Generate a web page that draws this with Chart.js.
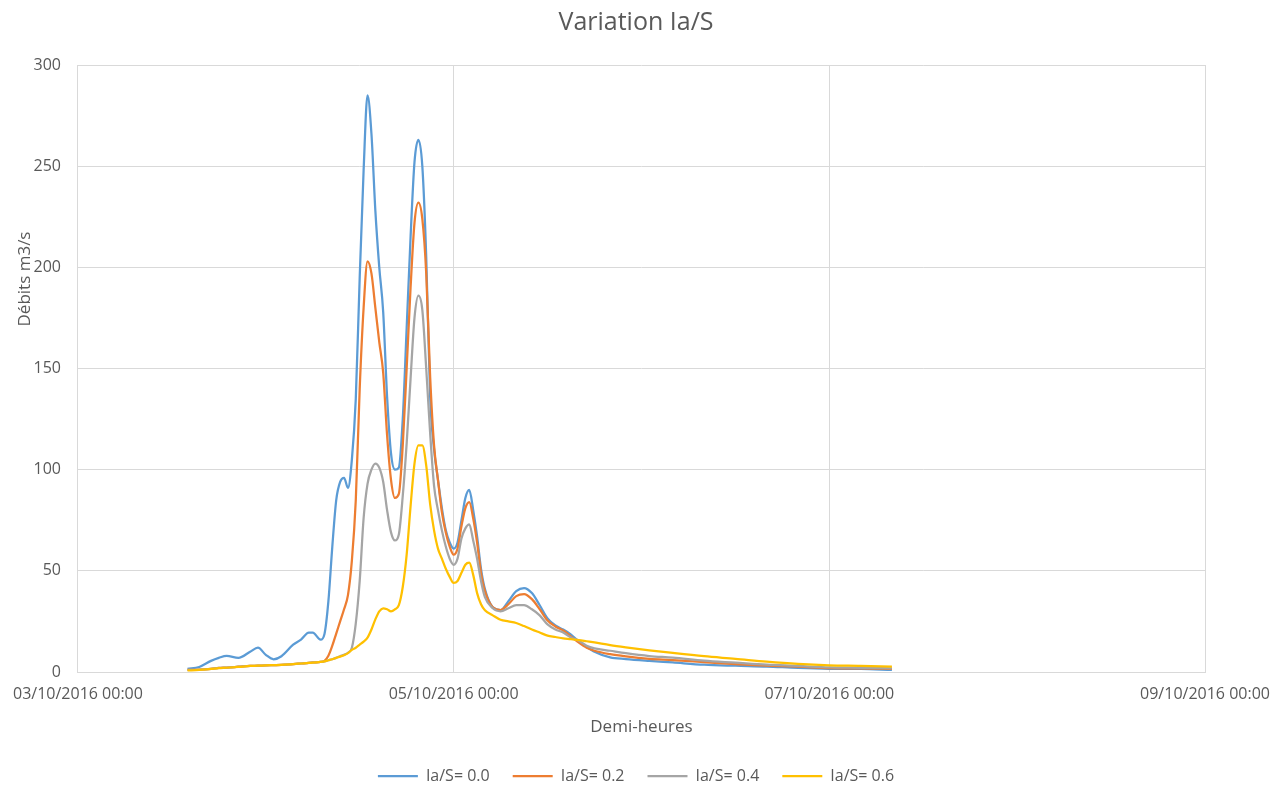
<!DOCTYPE html>
<html>
<head>
<meta charset="utf-8">
<script src="https://cdn.jsdelivr.net/npm/chart.js@4.4.1/dist/chart.umd.min.js"></script>
<style>
  body { margin: 0; background: #fff; }
</style>
</head>
<body>
<canvas id="variationIaS" width="1288" height="787"></canvas>
<script>
// heures depuis le 03/10/2016 00:00
const hours = [14,15.5,17,18,19,20.5,22,23,24,25,
  26,27.5,28.5,29.5,30,31,31.5,32,32.5,33,
  33.5,34,34.5,35,35.5,36,36.5,37,37.5,38,
  38.5,39,39.5,40,40.5,41,41.5,42,42.5,43,
  43.5,44,44.5,45,45.5,46,46.5,47,47.5,48,
  48.5,49,49.5,50,50.5,51,51.5,52,53,54,
  55,56,57,58,59,60,61,62,63,64,
  65,66,68,70,73,76,80,84,88,92,
  96,100,104];

const q_00 = [1.5,2.5,5.5,7,8,7,10,12,8.5,6.3,
  7.8,13.5,16,19.4,19.4,16,18.8,35,62,85,
  94,96,91,105,135,195,248,285,266,228,
  200,178,136,108,100,101,125,170,215,252,
  263,250,205,136,110,95,81,70,64,61,
  64,75,86,90,80,67,51,41,32,30.6,
  35,40,41.5,39,33,26.5,23,21,18.5,15,
  12.5,10,7.2,6.4,5.5,4.7,3.6,3.1,2.7,2,
  1.6,1.5,1];

const q_02 = [1,1.2,1.6,2,2.2,2.6,3,3.1,3.3,3.4,
  3.5,3.9,4.2,4.5,4.7,5,5.5,8,13,19,
  25,31,38,55,85,140,180,203,197,180,
  163,148,117,95,86,88,112,150,190,222,
  232,224,197,146,112,95,79,69,62,58,
  61,72,81,84,76,64,49,40,32,30.6,
  33.5,37.5,38.5,36,31,25.5,22.5,20.5,17.5,14.5,
  12,10.5,8.8,7.7,6.5,5.9,4.9,3.9,3.1,2.7,
  1.9,1.8,1.5];

const q_04 = [1,1.2,1.6,2,2.2,2.6,3,3.1,3.3,3.4,
  3.5,3.9,4.2,4.5,4.7,5,5.3,5.8,6.3,7,
  7.8,8.5,9.5,12,24,45,76,93,100,103,
  101,94,80,69,65,68,87,113,145,175,
  186,179,150,118,92,80,70,62,56,53,
  56,66,71,73,65,56,45,37,31.5,30,
  31.5,33,33,31,28,23.5,21,19.5,17,15.5,
  13,11.7,10.5,9.3,7.9,7.1,5.6,4.6,3.6,3,
  2.3,2.1,1.8];

const q_06 = [0.8,1,1.5,1.9,2.1,2.5,3,3.1,3.3,3.4,
  3.5,3.9,4.2,4.5,4.6,5,5.3,5.8,6.3,7,
  7.6,8.3,9.3,10.9,12,13.5,15,17,21,26,
  30,31.5,31,30,31,33,42,58,82,103,
  112,112,102,83,70,61,56,51,47,44,
  45,49,53,54,48,39,33.5,30.5,28,25.8,
  25,24.2,22.7,21,19.5,18,17.3,16.6,16.3,15.8,
  15.2,14.6,13.3,12.2,10.7,9.4,7.8,6.5,5.1,4,
  3.3,3,2.6];

const seriesNames = ['Ia/S= 0.0','Ia/S= 0.2','Ia/S= 0.4','Ia/S= 0.6'];
const seriesColors = ['#5B9BD5','#ED7D31','#A5A5A5','#FFC000'];
const yTicks = [0,50,100,150,200,250,300];
const xTickHours = [0,48,96,144];

const txt = '#595959';
const grid = '#D9D9D9';
const fontFam = '"Open Sans", "Liberation Sans", sans-serif';

function toPoints(vals) {
  return hours.map((h, i) => ({x: h, y: vals[i]}));
}
function dateLabel(h) {
  const d = 3 + Math.round(h / 24);
  return (d < 10 ? '0' + d : d) + '/10/2016 00:00';
}

const allSeries = [q_00, q_02, q_04, q_06];
const datasets = allSeries.map((vals, i) => ({
  label: seriesNames[i],
  data: toPoints(vals),
  borderColor: seriesColors[i],
  backgroundColor: seriesColors[i],
  borderWidth: 2.25,
  pointRadius: 0,
  cubicInterpolationMode: 'monotone',
  fill: false,
  order: 3 - i
}));

// titre de l'axe Y, place comme dans Excel (au-dessus du centre)
const yTitle = {
  id: 'yTitle',
  afterDraw(chart) {
    const ctx = chart.ctx;
    ctx.save();
    ctx.translate(25, 279);
    ctx.rotate(-Math.PI / 2);
    ctx.font = '17px ' + fontFam;
    ctx.fillStyle = txt;
    ctx.textAlign = 'center';
    ctx.textBaseline = 'middle';
    ctx.fillText('Débits m3/s', 0, 0);
    ctx.restore();
  }
};

new Chart('variationIaS', {
  type: 'line',
  data: { datasets: datasets },
  options: {
    responsive: false,
    animation: false,
    layout: { padding: { left: 0, right: 16, top: 0, bottom: -7 } },
    plugins: {
      title: {
        display: true,
        text: 'Variation Ia/S',
        color: txt,
        font: { family: fontFam, size: 25, weight: 'normal' },
        padding: { top: 8, bottom: 27 }
      },
      legend: {
        position: 'bottom',
        labels: {
          color: txt,
          font: { family: fontFam, size: 16 },
          usePointStyle: true,
          pointStyle: 'line',
          pointStyleWidth: 40,
          padding: 23,
          sort: (a, b) => a.datasetIndex - b.datasetIndex
        }
      },
      tooltip: { enabled: false }
    },
    scales: {
      x: {
        type: 'linear',
        min: 0,
        max: 144,
        afterBuildTicks: (s) => { s.ticks = xTickHours.map(v => ({value: v})); },
        afterFit: (s) => { s.height = 73; },
        ticks: {
          color: txt,
          font: { family: fontFam, size: 16 },
          padding: 13,
          maxRotation: 0,
          autoSkip: false,
          callback: (v) => dateLabel(v)
        },
        grid: { color: grid, drawTicks: false },
        border: { color: grid },
        title: {
          display: true,
          text: 'Demi-heures',
          color: txt,
          font: { family: fontFam, size: 17 },
          padding: { top: 10, bottom: 8 }
        }
      },
      y: {
        min: 0,
        max: 300,
        afterBuildTicks: (s) => { s.ticks = yTicks.map(v => ({value: v})); },
        afterFit: (s) => { s.width = 75; },
        ticks: {
          color: txt,
          font: { family: fontFam, size: 16 },
          padding: 17
        },
        grid: { color: grid, drawTicks: false },
        border: { color: grid }
      },
      // empty right-hand spacer, keeps title and legend centred like Excel
      spacer: {
        position: 'right',
        min: 0,
        max: 1,
        afterFit: (s) => { s.width = 67; },
        ticks: { display: false },
        grid: { display: false },
        border: { display: false }
      }
    }
  },
  plugins: [yTitle]
});
</script>
</body>
</html>
